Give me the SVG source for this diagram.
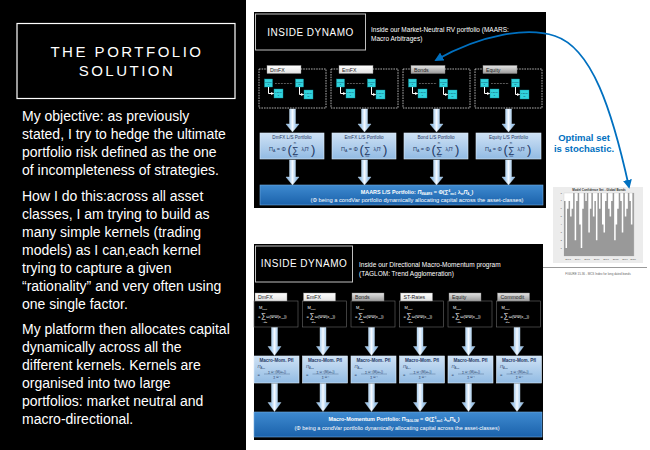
<svg xmlns="http://www.w3.org/2000/svg" width="650" height="450" viewBox="0 0 650 450">
  <style>
    .sans{font-family:"Liberation Sans",Arial,sans-serif}
    .body{font-family:"Liberation Sans",Arial,sans-serif;font-size:14px;fill:#fff}
    .title{font-family:"Liberation Sans",Arial,sans-serif;font-size:15px;fill:#fff;letter-spacing:2.5px}
    .dyn{font-family:"Liberation Sans",Arial,sans-serif;font-size:10px;fill:#fff;letter-spacing:0.5px}
    .sub{font-family:"Liberation Sans",Arial,sans-serif;font-size:6.5px;fill:#fff}
    .tab{stroke:#8a8a8a;stroke-width:0.4}
    .tabT{font-family:"Liberation Sans",Arial,sans-serif;font-size:5.2px;fill:#222}
    .dash{fill:none;stroke:#d9d9d9;stroke-width:0.8;stroke-dasharray:1.6 1}
    .kern{fill:#31d3dd;stroke:#138e9c;stroke-width:0.4}
    .kT{font-family:"Liberation Sans",Arial,sans-serif;font-size:2.3px;fill:#0b2c4a;text-anchor:middle}
    .pf{fill:url(#pfGrad);stroke:#dbe9f7;stroke-width:0.6}
    .pfT{font-family:"Liberation Sans",Arial,sans-serif;font-size:4.6px;fill:#1f3864;text-anchor:middle}
    .fx{font-family:"Liberation Sans",Arial,sans-serif;fill:#1f3864}
    .fw{font-family:"Liberation Sans",Arial,sans-serif;fill:#fff}
    .fbox{fill:#000;stroke:#6a6a6a;stroke-width:0.6}
    .bar{fill:url(#barGrad);stroke:#6fa8dc;stroke-width:0.6}
    .barT{font-family:"Liberation Sans",Arial,sans-serif;font-size:5.4px;fill:#fff;text-anchor:middle}
    .blk{fill:url(#shaftGrad);stroke:#cfe2f3;stroke-width:0.4}
    .elbow{fill:none;stroke:#fff;stroke-width:1;marker-end:url(#whiteHead)}
    .dots{stroke:#fff;stroke-width:0.6;stroke-dasharray:0.6 0.9}
    .tiny{font-family:"Liberation Sans",Arial,sans-serif;font-size:2.5px;fill:#555}
  </style>
  <defs>
    <linearGradient id="shaftGrad" x1="0" y1="0" x2="1" y2="0">
      <stop offset="0" stop-color="#7fb0e0"/>
      <stop offset="0.27" stop-color="#a9cdee"/>
      <stop offset="0.5" stop-color="#f4f9ff"/>
      <stop offset="0.73" stop-color="#a9cdee"/>
      <stop offset="1" stop-color="#7fb0e0"/>
    </linearGradient>
    <linearGradient id="pfGrad" x1="0" y1="0" x2="0" y2="1">
      <stop offset="0" stop-color="#cfe2f5"/>
      <stop offset="1" stop-color="#92bbe3"/>
    </linearGradient>
    <linearGradient id="barGrad" x1="0" y1="0" x2="0" y2="1">
      <stop offset="0" stop-color="#3e8ad0"/>
      <stop offset="1" stop-color="#1b62ab"/>
    </linearGradient>
    <linearGradient id="tabWhite" x1="0" y1="0" x2="0" y2="1">
      <stop offset="0" stop-color="#ffffff"/>
      <stop offset="1" stop-color="#e2e2e2"/>
    </linearGradient>
    <linearGradient id="tabGray" x1="0" y1="0" x2="0" y2="1">
      <stop offset="0" stop-color="#e4e4e4"/>
      <stop offset="1" stop-color="#9b9b9b"/>
    </linearGradient>
    <marker id="blueHead" viewBox="0 0 10 10" refX="8" refY="5" markerWidth="9" markerHeight="9" markerUnits="userSpaceOnUse" orient="auto-start-reverse">
      <path d="M0 0L10 5L0 10z" fill="#0070c0"/>
    </marker>
    <marker id="whiteHead" viewBox="0 0 10 10" refX="8" refY="5" markerWidth="3" markerHeight="3" markerUnits="userSpaceOnUse" orient="auto">
      <path d="M0 0L10 5L0 10z" fill="#fff"/>
    </marker>
    <path id="blk23" d="M-3 0H3V15H6.5L0 23L-6.5 15H-3Z"/>
    <path id="blk25" d="M-3 0H3V17H6.5L0 25L-6.5 17H-3Z"/>
    <path id="blk28" d="M-3 0H3V19H6.5L0 28L-6.5 19H-3Z"/>
  </defs>

  <rect width="650" height="450" fill="#fff"/>

  <!-- left text panel -->
  <g id="intro">
    <rect x="0" y="0" width="246" height="450" fill="#000"/>
    <rect x="17" y="23.5" width="218" height="75" fill="none" stroke="#fff" stroke-width="1.2"/>
    <text class="title" x="127" y="57" text-anchor="middle">THE PORTFOLIO</text>
    <text class="title" x="127" y="76" text-anchor="middle">SOLUTION</text>
    <text class="body" x="22">
      <tspan x="22" y="121">My objective:  as previously</tspan>
      <tspan x="22" y="139">stated, I try to hedge the ultimate</tspan>
      <tspan x="22" y="157">portfolio risk defined as the one</tspan>
      <tspan x="22" y="175">of incompleteness of strategies.</tspan>
      <tspan x="22" y="201">How I do this:across all asset</tspan>
      <tspan x="22" y="219">classes, I am trying to build as</tspan>
      <tspan x="22" y="237">many simple kernels (trading</tspan>
      <tspan x="22" y="255">models) as I can,each kernel</tspan>
      <tspan x="22" y="273">trying to capture a given</tspan>
      <tspan x="22" y="291">“rationality” and very often using</tspan>
      <tspan x="22" y="309">one single factor.</tspan>
      <tspan x="22" y="334">My platform then allocates  capital</tspan>
      <tspan x="22" y="352">dynamically across all  the</tspan>
      <tspan x="22" y="370">different kernels. Kernels are</tspan>
      <tspan x="22" y="388">organised into two large</tspan>
      <tspan x="22" y="406">portfolios: market neutral and</tspan>
      <tspan x="22" y="424">macro-directional.</tspan>
    </text>
  </g>

  <!-- market-neutral panel -->
  <g id="maars-panel">
    <rect x="254" y="12" width="292" height="196" fill="#000"/>
    <rect x="255.5" y="14" width="110" height="36" fill="none" stroke="#bfbfbf" stroke-width="1"/>
    <text class="dyn" x="310.5" y="35.7" text-anchor="middle">INSIDE DYNAMO</text>
    <text class="sub" x="371" y="32">Inside our Market-Neutral RV portfolio (MAARS:</text>
    <text class="sub" x="371" y="40.5">Macro Arbitrages)</text>
  </g>

  <!-- kernel groups, one per asset class -->
  <g id="kernels-dmfx" transform="translate(259 0)">
    <rect class="dash" x="0" y="69" width="67" height="39"/>
    <rect class="tab" x="8" y="65.5" width="34" height="8" fill="url(#tabWhite)"/>
    <text class="tabT" x="11" y="71.5">DmFX</text>
    <rect class="kern" x="5.5" y="79" width="8" height="8"/><text class="kT" x="9.5" y="82.5">Kernel</text><text class="kT" x="9.5" y="85.3">1</text>
    <rect class="kern" x="36.5" y="79" width="8" height="8"/><text class="kT" x="40.5" y="82.5">Kernel</text><text class="kT" x="40.5" y="85.3">m</text>
    <rect class="kern" x="15" y="89" width="9" height="9"/><text class="kT" x="19.5" y="93">L/S Pf</text><text class="kT" x="19.5" y="95.8">1</text>
    <rect class="kern" x="45" y="90" width="9" height="9"/><text class="kT" x="49.5" y="94">L/S Pf</text><text class="kT" x="49.5" y="96.8">m</text>
  </g>
  <g id="kernels-emfx" transform="translate(331 0)">
    <rect class="dash" x="0" y="69" width="67" height="39"/>
    <rect class="tab" x="8" y="65.5" width="34" height="8" fill="url(#tabWhite)"/>
    <text class="tabT" x="11" y="71.5">EmFX</text>
    <rect class="kern" x="5.5" y="79" width="8" height="8"/><text class="kT" x="9.5" y="82.5">Kernel</text><text class="kT" x="9.5" y="85.3">1</text>
    <rect class="kern" x="36.5" y="79" width="8" height="8"/><text class="kT" x="40.5" y="82.5">Kernel</text><text class="kT" x="40.5" y="85.3">m</text>
    <rect class="kern" x="15" y="89" width="9" height="9"/><text class="kT" x="19.5" y="93">L/S Pf</text><text class="kT" x="19.5" y="95.8">1</text>
    <rect class="kern" x="45" y="90" width="9" height="9"/><text class="kT" x="49.5" y="94">L/S Pf</text><text class="kT" x="49.5" y="96.8">m</text>
  </g>
  <g id="kernels-bonds" transform="translate(403 0)">
    <rect class="dash" x="0" y="69" width="67" height="39"/>
    <rect class="tab" x="8" y="65.5" width="34" height="8" fill="url(#tabGray)"/>
    <text class="tabT" x="11" y="71.5">Bonds</text>
    <rect class="kern" x="5.5" y="79" width="8" height="8"/><text class="kT" x="9.5" y="82.5">Kernel</text><text class="kT" x="9.5" y="85.3">1</text>
    <rect class="kern" x="36.5" y="79" width="8" height="8"/><text class="kT" x="40.5" y="82.5">Kernel</text><text class="kT" x="40.5" y="85.3">m</text>
    <rect class="kern" x="15" y="89" width="9" height="9"/><text class="kT" x="19.5" y="93">L/S Pf</text><text class="kT" x="19.5" y="95.8">1</text>
    <rect class="kern" x="45" y="90" width="9" height="9"/><text class="kT" x="49.5" y="94">L/S Pf</text><text class="kT" x="49.5" y="96.8">m</text>
  </g>
  <g id="kernels-equity" transform="translate(475 0)">
    <rect class="dash" x="0" y="69" width="67" height="39"/>
    <rect class="tab" x="8" y="65.5" width="34" height="8" fill="url(#tabGray)"/>
    <text class="tabT" x="11" y="71.5">Equity</text>
    <rect class="kern" x="5.5" y="79" width="8" height="8"/><text class="kT" x="9.5" y="82.5">Kernel</text><text class="kT" x="9.5" y="85.3">1</text>
    <rect class="kern" x="36.5" y="79" width="8" height="8"/><text class="kT" x="40.5" y="82.5">Kernel</text><text class="kT" x="40.5" y="85.3">m</text>
    <rect class="kern" x="15" y="89" width="9" height="9"/><text class="kT" x="19.5" y="93">L/S Pf</text><text class="kT" x="19.5" y="95.8">1</text>
    <rect class="kern" x="45" y="90" width="9" height="9"/><text class="kT" x="49.5" y="94">L/S Pf</text><text class="kT" x="49.5" y="96.8">m</text>
  </g>

  <!-- L/S portfolio boxes -->
  <g id="pf-dmfx" transform="translate(260 0)">
    <rect class="pf" x="0" y="133" width="64" height="26"/>
    <text class="pfT" x="32" y="139">DmFX L/S Portfolio</text>
    <text class="fx" font-size="5.5" x="9" y="151">Π<tspan font-size="3.5" dy="1">A</tspan><tspan dy="-1"> = Φ</tspan></text>
    <text class="fx" font-size="13" x="27.5" y="153.5">(</text>
    <text class="fx" font-size="9" x="32" y="153">∑</text>
    <text class="fx" font-size="2.8" x="35" y="143.5" text-anchor="middle">m</text>
    <text class="fx" font-size="2.8" x="35.5" y="157" text-anchor="middle">i=1</text>
    <text class="fx" font-size="5" x="41.5" y="151">λ<tspan font-size="3" dy="1">i</tspan><tspan dy="-1">Π</tspan><tspan font-size="3" dy="-2">i</tspan></text>
    <text class="fx" font-size="13" x="51" y="153.5">)</text>
  </g>
  <g id="pf-emfx" transform="translate(332 0)">
    <rect class="pf" x="0" y="133" width="64" height="26"/>
    <text class="pfT" x="32" y="139">EmFX L/S Portfolio</text>
    <text class="fx" font-size="5.5" x="9" y="151">Π<tspan font-size="3.5" dy="1">A</tspan><tspan dy="-1"> = Φ</tspan></text>
    <text class="fx" font-size="13" x="27.5" y="153.5">(</text>
    <text class="fx" font-size="9" x="32" y="153">∑</text>
    <text class="fx" font-size="2.8" x="35" y="143.5" text-anchor="middle">m</text>
    <text class="fx" font-size="2.8" x="35.5" y="157" text-anchor="middle">i=1</text>
    <text class="fx" font-size="5" x="41.5" y="151">λ<tspan font-size="3" dy="1">i</tspan><tspan dy="-1">Π</tspan><tspan font-size="3" dy="-2">i</tspan></text>
    <text class="fx" font-size="13" x="51" y="153.5">)</text>
  </g>
  <g id="pf-bonds" transform="translate(404 0)">
    <rect class="pf" x="0" y="133" width="64" height="26"/>
    <text class="pfT" x="32" y="139">Bond L/S Portfolio</text>
    <text class="fx" font-size="5.5" x="9" y="151">Π<tspan font-size="3.5" dy="1">A</tspan><tspan dy="-1"> = Φ</tspan></text>
    <text class="fx" font-size="13" x="27.5" y="153.5">(</text>
    <text class="fx" font-size="9" x="32" y="153">∑</text>
    <text class="fx" font-size="2.8" x="35" y="143.5" text-anchor="middle">m</text>
    <text class="fx" font-size="2.8" x="35.5" y="157" text-anchor="middle">i=1</text>
    <text class="fx" font-size="5" x="41.5" y="151">λ<tspan font-size="3" dy="1">i</tspan><tspan dy="-1">Π</tspan><tspan font-size="3" dy="-2">i</tspan></text>
    <text class="fx" font-size="13" x="51" y="153.5">)</text>
  </g>
  <g id="pf-equity" transform="translate(476 0)">
    <rect class="pf" x="0" y="133" width="65" height="26"/>
    <text class="pfT" x="32.5" y="139">Equity L/S Portfolio</text>
    <text class="fx" font-size="5.5" x="9" y="151">Π<tspan font-size="3.5" dy="1">A</tspan><tspan dy="-1"> = Φ</tspan></text>
    <text class="fx" font-size="13" x="27.5" y="153.5">(</text>
    <text class="fx" font-size="9" x="32" y="153">∑</text>
    <text class="fx" font-size="2.8" x="35" y="143.5" text-anchor="middle">m</text>
    <text class="fx" font-size="2.8" x="35.5" y="157" text-anchor="middle">i=1</text>
    <text class="fx" font-size="5" x="41.5" y="151">λ<tspan font-size="3" dy="1">i</tspan><tspan dy="-1">Π</tspan><tspan font-size="3" dy="-2">i</tspan></text>
    <text class="fx" font-size="13" x="51" y="153.5">)</text>
  </g>

  <!-- MAARS aggregate portfolio -->
  <g id="maars-total">
    <rect class="bar" x="260" y="185" width="283" height="20"/>
    <text class="barT" x="417" y="194" font-weight="bold">MAARS L/S Portfolio: <tspan font-style="italic">Π</tspan><tspan font-size="3" dy="1">MAARS</tspan><tspan dy="-1"> = Φ(∑</tspan><tspan font-size="3" dy="-2">4</tspan><tspan font-size="3" dy="3">m=1</tspan><tspan dy="-1"> λ</tspan><tspan font-size="3" dy="1">m</tspan><tspan dy="-1" font-style="italic">Π</tspan><tspan font-size="3" dy="1">A</tspan><tspan font-size="2.2" dy="0.6">m</tspan><tspan dy="-1.6">)</tspan></text>
    <text class="barT" x="417" y="202" textLength="213" lengthAdjust="spacingAndGlyphs">(Φ being a condVar portfolio dynamically allocating capital across the asset-classes)</text>
  </g>

  <!-- directional panel -->
  <g id="taglom-panel">
    <rect x="254" y="244" width="289" height="196" fill="#000"/>
    <rect x="255.5" y="246" width="97" height="36" fill="none" stroke="#bfbfbf" stroke-width="1"/>
    <text class="dyn" x="304" y="267" text-anchor="middle">INSIDE DYNAMO</text>
    <text class="sub" x="359" y="267">Inside our Directional Macro-Momentum program</text>
    <text class="sub" x="359" y="276">(TAGLOM: Trend Agglomeration)</text>
  </g>

  <!-- trend kernels, one per asset class -->
  <g id="trend-dmfx" transform="translate(255 0)">
    <rect class="fbox" x="-1" y="301" width="44" height="26"/>
    <rect class="tab" x="0" y="293" width="32" height="8" fill="url(#tabWhite)"/>
    <text class="tabT" x="3" y="299.2">DmFX</text>
    <text class="fw" font-size="4" x="4" y="309">M<tspan font-size="2.4" dy="1">cont</tspan></text>
    <text class="fw" font-size="4" x="3" y="318">=<tspan font-size="7" dx="0.5">∑</tspan><tspan dx="0.5">ω(ΨΨ(x</tspan><tspan font-size="2.4" dy="1">ym</tspan><tspan dy="-1">))</tspan></text>
    <text class="fw" font-size="2.4" x="8" y="322.5">i∈S</text>
  </g>
  <g id="trend-emfx" transform="translate(303.5 0)">
    <rect class="fbox" x="-1" y="301" width="44" height="26"/>
    <rect class="tab" x="0" y="293" width="32" height="8" fill="url(#tabWhite)"/>
    <text class="tabT" x="3" y="299.2">EmFX</text>
    <text class="fw" font-size="4" x="4" y="309">M<tspan font-size="2.4" dy="1">cont</tspan></text>
    <text class="fw" font-size="4" x="3" y="318">=<tspan font-size="7" dx="0.5">∑</tspan><tspan dx="0.5">ω(ΨΨ(x</tspan><tspan font-size="2.4" dy="1">ym</tspan><tspan dy="-1">))</tspan></text>
    <text class="fw" font-size="2.4" x="8" y="322.5">i∈S</text>
  </g>
  <g id="trend-bonds" transform="translate(352 0)">
    <rect class="fbox" x="-1" y="301" width="44" height="26"/>
    <rect class="tab" x="0" y="293" width="32" height="8" fill="url(#tabGray)"/>
    <text class="tabT" x="3" y="299.2">Bonds</text>
    <text class="fw" font-size="4" x="4" y="309">M<tspan font-size="2.4" dy="1">cont</tspan></text>
    <text class="fw" font-size="4" x="3" y="318">=<tspan font-size="7" dx="0.5">∑</tspan><tspan dx="0.5">ω(ΨΨ(x</tspan><tspan font-size="2.4" dy="1">ym</tspan><tspan dy="-1">))</tspan></text>
    <text class="fw" font-size="2.4" x="8" y="322.5">i∈S</text>
  </g>
  <g id="trend-strates" transform="translate(400.5 0)">
    <rect class="fbox" x="-1" y="301" width="44" height="26"/>
    <rect class="tab" x="0" y="293" width="32" height="8" fill="url(#tabWhite)"/>
    <text class="tabT" x="3" y="299.2">ST-Rates</text>
    <text class="fw" font-size="4" x="4" y="309">M<tspan font-size="2.4" dy="1">cont</tspan></text>
    <text class="fw" font-size="4" x="3" y="318">=<tspan font-size="7" dx="0.5">∑</tspan><tspan dx="0.5">ω(ΨΨ(x</tspan><tspan font-size="2.4" dy="1">ym</tspan><tspan dy="-1">))</tspan></text>
    <text class="fw" font-size="2.4" x="8" y="322.5">i∈S</text>
  </g>
  <g id="trend-equity" transform="translate(449 0)">
    <rect class="fbox" x="-1" y="301" width="44" height="26"/>
    <rect class="tab" x="0" y="293" width="32" height="8" fill="url(#tabGray)"/>
    <text class="tabT" x="3" y="299.2">Equity</text>
    <text class="fw" font-size="4" x="4" y="309">M<tspan font-size="2.4" dy="1">cont</tspan></text>
    <text class="fw" font-size="4" x="3" y="318">=<tspan font-size="7" dx="0.5">∑</tspan><tspan dx="0.5">ω(ΨΨ(x</tspan><tspan font-size="2.4" dy="1">ym</tspan><tspan dy="-1">))</tspan></text>
    <text class="fw" font-size="2.4" x="8" y="322.5">i∈S</text>
  </g>
  <g id="trend-commodit" transform="translate(497.5 0)">
    <rect class="fbox" x="-1" y="301" width="44" height="26"/>
    <rect class="tab" x="0" y="293" width="32" height="8" fill="url(#tabGray)"/>
    <text class="tabT" x="3" y="299.2">Commodit</text>
    <text class="fw" font-size="4" x="4" y="309">M<tspan font-size="2.4" dy="1">cont</tspan></text>
    <text class="fw" font-size="4" x="3" y="318">=<tspan font-size="7" dx="0.5">∑</tspan><tspan dx="0.5">ω(ΨΨ(x</tspan><tspan font-size="2.4" dy="1">ym</tspan><tspan dy="-1">))</tspan></text>
    <text class="fw" font-size="2.4" x="8" y="322.5">i∈S</text>
  </g>

  <!-- macro-momentum portfolio boxes -->
  <g id="mm-dmfx" transform="translate(255 0)">
    <rect class="pf" x="-1" y="356" width="45" height="27"/>
    <text class="pfT" x="21.5" y="361.5" font-weight="bold">Macro-Mom. Pfl</text>
    <text class="fx" font-size="4.2" x="2.5" y="367.5" font-style="italic">Π<tspan font-size="2.6" dy="1">A</tspan><tspan font-size="2" dy="0.5">m1</tspan></text>
    <text class="fx" font-size="4" x="2.5" y="375.5">=</text>
    <text class="fx" font-size="3" x="22" y="372.5" text-anchor="middle">∑ ω⁻¹(M(ω<tspan font-size="2" dy="0.6">m</tspan><tspan dy="-0.6">))</tspan></text>
    <line x1="9" y1="374" x2="35" y2="374" stroke="#1f3864" stroke-width="0.3"/>
    <text class="fx" font-size="3" x="22" y="378.3" text-anchor="middle">∑ ω⁻¹</text>
  </g>
  <g id="mm-emfx" transform="translate(303.5 0)">
    <rect class="pf" x="-1" y="356" width="45" height="27"/>
    <text class="pfT" x="21.5" y="361.5" font-weight="bold">Macro-Mom. Pfl</text>
    <text class="fx" font-size="4.2" x="2.5" y="367.5" font-style="italic">Π<tspan font-size="2.6" dy="1">A</tspan><tspan font-size="2" dy="0.5">m2</tspan></text>
    <text class="fx" font-size="4" x="2.5" y="375.5">=</text>
    <text class="fx" font-size="3" x="22" y="372.5" text-anchor="middle">∑ ω⁻¹(M(ω<tspan font-size="2" dy="0.6">m</tspan><tspan dy="-0.6">))</tspan></text>
    <line x1="9" y1="374" x2="35" y2="374" stroke="#1f3864" stroke-width="0.3"/>
    <text class="fx" font-size="3" x="22" y="378.3" text-anchor="middle">∑ ω⁻¹</text>
  </g>
  <g id="mm-bonds" transform="translate(352 0)">
    <rect class="pf" x="-1" y="356" width="45" height="27"/>
    <text class="pfT" x="21.5" y="361.5" font-weight="bold">Macro-Mom. Pfl</text>
    <text class="fx" font-size="4.2" x="2.5" y="367.5" font-style="italic">Π<tspan font-size="2.6" dy="1">A</tspan><tspan font-size="2" dy="0.5">m3</tspan></text>
    <text class="fx" font-size="4" x="2.5" y="375.5">=</text>
    <text class="fx" font-size="3" x="22" y="372.5" text-anchor="middle">∑ ω⁻¹(M(ω<tspan font-size="2" dy="0.6">m</tspan><tspan dy="-0.6">))</tspan></text>
    <line x1="9" y1="374" x2="35" y2="374" stroke="#1f3864" stroke-width="0.3"/>
    <text class="fx" font-size="3" x="22" y="378.3" text-anchor="middle">∑ ω⁻¹</text>
  </g>
  <g id="mm-strates" transform="translate(400.5 0)">
    <rect class="pf" x="-1" y="356" width="45" height="27"/>
    <text class="pfT" x="21.5" y="361.5" font-weight="bold">Macro-Mom. Pfl</text>
    <text class="fx" font-size="4.2" x="2.5" y="367.5" font-style="italic">Π<tspan font-size="2.6" dy="1">A</tspan><tspan font-size="2" dy="0.5">m4</tspan></text>
    <text class="fx" font-size="4" x="2.5" y="375.5">=</text>
    <text class="fx" font-size="3" x="22" y="372.5" text-anchor="middle">∑ ω⁻¹(M(ω<tspan font-size="2" dy="0.6">m</tspan><tspan dy="-0.6">))</tspan></text>
    <line x1="9" y1="374" x2="35" y2="374" stroke="#1f3864" stroke-width="0.3"/>
    <text class="fx" font-size="3" x="22" y="378.3" text-anchor="middle">∑ ω⁻¹</text>
  </g>
  <g id="mm-equity" transform="translate(449 0)">
    <rect class="pf" x="-1" y="356" width="45" height="27"/>
    <text class="pfT" x="21.5" y="361.5" font-weight="bold">Macro-Mom. Pfl</text>
    <text class="fx" font-size="4.2" x="2.5" y="367.5" font-style="italic">Π<tspan font-size="2.6" dy="1">A</tspan><tspan font-size="2" dy="0.5">m5</tspan></text>
    <text class="fx" font-size="4" x="2.5" y="375.5">=</text>
    <text class="fx" font-size="3" x="22" y="372.5" text-anchor="middle">∑ ω⁻¹(M(ω<tspan font-size="2" dy="0.6">m</tspan><tspan dy="-0.6">))</tspan></text>
    <line x1="9" y1="374" x2="35" y2="374" stroke="#1f3864" stroke-width="0.3"/>
    <text class="fx" font-size="3" x="22" y="378.3" text-anchor="middle">∑ ω⁻¹</text>
  </g>
  <g id="mm-commodit" transform="translate(497.5 0)">
    <rect class="pf" x="-1" y="356" width="45" height="27"/>
    <text class="pfT" x="21.5" y="361.5" font-weight="bold">Macro-Mom. Pfl</text>
    <text class="fx" font-size="4.2" x="2.5" y="367.5" font-style="italic">Π<tspan font-size="2.6" dy="1">A</tspan><tspan font-size="2" dy="0.5">m6</tspan></text>
    <text class="fx" font-size="4" x="2.5" y="375.5">=</text>
    <text class="fx" font-size="3" x="22" y="372.5" text-anchor="middle">∑ ω⁻¹(M(ω<tspan font-size="2" dy="0.6">m</tspan><tspan dy="-0.6">))</tspan></text>
    <line x1="9" y1="374" x2="35" y2="374" stroke="#1f3864" stroke-width="0.3"/>
    <text class="fx" font-size="3" x="22" y="378.3" text-anchor="middle">∑ ω⁻¹</text>
  </g>

  <!-- TAGLOM aggregate portfolio -->
  <g id="taglom-total">
    <rect class="bar" x="254" y="412" width="288" height="25"/>
    <text class="barT" x="394" y="421" font-weight="bold">Macro-Momentum Portfolio: <tspan>Π</tspan><tspan font-size="3" dy="1">TAGLOM</tspan><tspan dy="-1"> = Φ(∑</tspan><tspan font-size="3" dy="-2">6</tspan><tspan font-size="3" dy="3">m=1</tspan><tspan dy="-1"> λ</tspan><tspan font-size="3" dy="1">m</tspan><tspan dy="-1">Π</tspan><tspan font-size="3" dy="1">A</tspan><tspan font-size="2.2" dy="0.6">m</tspan><tspan dy="-1.6">)</tspan></text>
    <text class="barT" x="397" y="429.5" textLength="205" lengthAdjust="spacingAndGlyphs">(Φ being a condVar portfolio dynamically allocating capital across the asset-classes)</text>
  </g>

  <!-- model confidence set chart -->
  <g id="mcs-chart">
    <rect x="553" y="187" width="90" height="76" fill="#ececec"/>
    <rect x="564" y="193" width="70" height="63" fill="#fff" stroke="#bdbdbd" stroke-width="0.3"/>
    <text class="sans" x="599" y="191.3" font-size="3" font-weight="bold" fill="#333" text-anchor="middle">Model Confidence Set - Global Bonds</text>
    <path fill="#999" d="M564 256V200.9h1.52V248.1h1.52V208.7h1.52V200.9h1.52V216.6h1.52V208.7h1.52V193h1.52V240.2h1.52V200.9h1.52V193h1.52V224.5h1.52V248.1h1.52V208.7h1.52V193h1.52V200.9h1.52V193h1.52V232.4h1.52V208.7h1.52V193h1.52V216.6h1.52V200.9h1.52V240.2h1.52V193h1.52V208.7h1.52V193h1.52V224.5h1.52V232.4h1.52V200.9h1.52V193h1.52V208.7h1.52V216.6h1.52V200.9h1.52V193h1.52V240.2h1.52V224.5h1.52V208.7h1.52V193h1.52V200.9h1.52V232.4h1.52V193h1.52V216.6h1.52V208.7h1.52V193h1.52V200.9h1.52V224.5h1.52V193h1.52V256Z"/>
    <g class="tiny" text-anchor="end">
      <text x="562" y="249">1</text><text x="562" y="241">2</text><text x="562" y="233">3</text><text x="562" y="225">4</text>
      <text x="562" y="217">5</text><text x="562" y="209">6</text><text x="562" y="201">7</text><text x="562" y="194">8</text>
    </g>
    <g class="tiny" text-anchor="middle">
      <text x="568" y="259.8">2013</text><text x="577.5" y="259.8">2014</text><text x="587" y="259.8">2015</text><text x="596.5" y="259.8">2016</text>
      <text x="606" y="259.8">2017</text><text x="615.5" y="259.8">2018</text><text x="625" y="259.8">2019</text><text x="633" y="259.8">2020</text>
    </g>
    <line x1="543" y1="267.5" x2="647" y2="267.5" stroke="#9a9a9a" stroke-width="1"/>
    <text class="sans" x="598" y="274.5" font-size="3" fill="#666" text-anchor="middle">FIGURE 15.36 - MCS Index for long dated bonds</text>
  </g>

  <!-- annotation -->
  <g id="note">
    <text class="sans" x="584" y="141" font-size="9.5" font-weight="bold" fill="#0070c0" text-anchor="middle">Optimal set</text>
    <text class="sans" x="584" y="152" font-size="9.5" font-weight="bold" fill="#0070c0" text-anchor="middle">is stochastic.</text>
  </g>

  <!-- connectors -->
  <g id="connectors">
    <!-- kernel to L/S portfolio elbows -->
    <g>
      <path class="elbow" d="M268.5 87V93.5H273.5"/><path class="elbow" d="M299.5 87V94.5H303.5"/>
      <line class="dots" x1="275" y1="83.5" x2="293" y2="83.5"/>
      <path class="elbow" d="M340.5 87V93.5H345.5"/><path class="elbow" d="M371.5 87V94.5H375.5"/>
      <line class="dots" x1="347" y1="83.5" x2="365" y2="83.5"/>
      <path class="elbow" d="M412.5 87V93.5H417.5"/><path class="elbow" d="M443.5 87V94.5H447.5"/>
      <line class="dots" x1="419" y1="83.5" x2="437" y2="83.5"/>
      <path class="elbow" d="M484.5 87V93.5H489.5"/><path class="elbow" d="M515.5 87V94.5H519.5"/>
      <line class="dots" x1="491" y1="83.5" x2="509" y2="83.5"/>
    </g>
    <!-- kernel groups to L/S portfolios to MAARS -->
    <use href="#blk23" class="blk" transform="translate(292.5 109)"/>
    <use href="#blk23" class="blk" transform="translate(364.5 109)"/>
    <use href="#blk23" class="blk" transform="translate(436.5 109)"/>
    <use href="#blk23" class="blk" transform="translate(508.5 109)"/>
    <use href="#blk25" class="blk" transform="translate(292.5 160)"/>
    <use href="#blk25" class="blk" transform="translate(364.5 160)"/>
    <use href="#blk25" class="blk" transform="translate(436.5 160)"/>
    <use href="#blk25" class="blk" transform="translate(508.5 160)"/>
    <!-- trend kernels to macro-momentum to TAGLOM -->
    <use href="#blk28" class="blk" transform="translate(274.5 327.5)"/>
    <use href="#blk28" class="blk" transform="translate(323 327.5)"/>
    <use href="#blk28" class="blk" transform="translate(371.5 327.5)"/>
    <use href="#blk28" class="blk" transform="translate(420 327.5)"/>
    <use href="#blk28" class="blk" transform="translate(468.5 327.5)"/>
    <use href="#blk28" class="blk" transform="translate(517 327.5)"/>
    <use href="#blk28" class="blk" transform="translate(274.5 383.5)"/>
    <use href="#blk28" class="blk" transform="translate(323 383.5)"/>
    <use href="#blk28" class="blk" transform="translate(371.5 383.5)"/>
    <use href="#blk28" class="blk" transform="translate(420 383.5)"/>
    <use href="#blk28" class="blk" transform="translate(468.5 383.5)"/>
    <use href="#blk28" class="blk" transform="translate(517 383.5)"/>
    <!-- chart to bonds kernel group -->
    <path d="M629 187C612 110 592 48 555 36C528 27 482 34 436 60" fill="none" stroke="#0070c0" stroke-width="1.8" marker-start="url(#blueHead)" marker-end="url(#blueHead)"/>
  </g>
</svg>
